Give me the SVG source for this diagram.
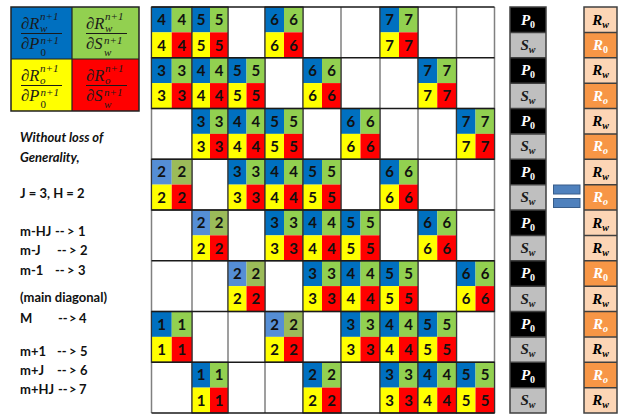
<svg xmlns="http://www.w3.org/2000/svg" width="622" height="416" viewBox="0 0 622 416">
<style>
.B{fill:#0070C0}.G{fill:#92D050}.Y{fill:#FFFF00}.R{fill:#FF0000}.LB{fill:#558ED5}.LG{fill:#9BBB59}
.d{font-family:Lato,"Liberation Sans",sans-serif;font-weight:700;font-size:15px;fill:#111;text-anchor:middle}
.ol{fill:none;stroke:#333;stroke-width:1.2}
.vl{stroke:#808080;stroke-width:1.5}
.hl{stroke:#1a1a1a;stroke-width:1.5}
.lt{font-family:Lato,"Liberation Sans",sans-serif;font-weight:700;font-size:13px;fill:#111}
.it{font-style:italic}
.fm{font-family:"Liberation Serif","DejaVu Serif",serif;font-style:italic;font-size:16.5px;fill:#1a1a1a}
.fs{font-size:11px}
.fl{stroke:#1a1a1a;stroke-width:1}
.vc{stroke:#404040;stroke-width:1.5}
.vt{font-family:"Liberation Serif","DejaVu Serif",serif;font-style:italic;font-weight:700;font-size:15px;text-anchor:middle}
.sb{font-size:10px}
.up{font-style:normal}
</style>
<rect width="622" height="416" fill="#fff"/>

<g id="legend">
<rect class="B" x="11" y="7" width="61" height="52"/>
<rect class="G" x="72" y="7" width="67" height="52"/>
<rect class="Y" x="11" y="59" width="61" height="52"/>
<rect class="R" x="72" y="59" width="67" height="52"/>
<path d="M72 7V111M11 59H139" stroke="#222" stroke-width="1.2"/>
<rect x="11" y="7" width="128" height="104" fill="none" stroke="#222" stroke-width="1.5"/>
<g id="f-bl">
<text class="fm" x="21" y="29">∂R<tspan class="fs" x="40" y="19.8">n+1</tspan><tspan class="fs" x="40" y="31.9">w</tspan></text>
<line class="fl" x1="21" y1="33.5" x2="62" y2="33.5"/>
<text class="fm" x="21" y="49">∂P<tspan class="fs" x="40.5" y="44.2">n+1</tspan><tspan class="fs up" x="40.5" y="56.4">0</tspan></text>
</g>
<g id="f-gr">
<text class="fm" x="86" y="29">∂R<tspan class="fs" x="105" y="19.8">n+1</tspan><tspan class="fs" x="105" y="31.9">w</tspan></text>
<line class="fl" x1="86" y1="33.5" x2="127" y2="33.5"/>
<text class="fm" x="86" y="49">∂S<tspan class="fs" x="104" y="44.2">n+1</tspan><tspan class="fs" x="104" y="56.4">w</tspan></text>
</g>
<g id="f-ye">
<text class="fm" x="21" y="81">∂R<tspan class="fs" x="40" y="71.8">n+1</tspan><tspan class="fs" x="40" y="83.9">o</tspan></text>
<line class="fl" x1="21" y1="85.5" x2="62" y2="85.5"/>
<text class="fm" x="21" y="101">∂P<tspan class="fs" x="40.5" y="96.2">n+1</tspan><tspan class="fs up" x="40.5" y="108.4">0</tspan></text>
</g>
<g id="f-re">
<text class="fm" x="86" y="81">∂R<tspan class="fs" x="105" y="71.8">n+1</tspan><tspan class="fs" x="105" y="83.9">o</tspan></text>
<line class="fl" x1="86" y1="85.5" x2="127" y2="85.5"/>
<text class="fm" x="86" y="101">∂S<tspan class="fs" x="104" y="96.2">n+1</tspan><tspan class="fs" x="104" y="108.4">w</tspan></text>
</g>
</g>

<g id="notes" class="lt">
<text class="it" x="20" y="141.5">Without loss of</text>
<text class="it" x="20" y="161.5">Generality,</text>
<text x="20" y="197.5">J = 3, H = 2</text>
<text y="235.5"><tspan x="20">m-HJ</tspan><tspan x="55">--</tspan><tspan x="67">&gt;</tspan><tspan x="78">1</tspan></text>
<text y="254.5"><tspan x="20">m-J</tspan><tspan x="57">--</tspan><tspan x="69">&gt;</tspan><tspan x="80">2</tspan></text>
<text y="274.5"><tspan x="20">m-1</tspan><tspan x="55">--</tspan><tspan x="67">&gt;</tspan><tspan x="78">3</tspan></text>
<text x="20" y="301.5">(main diagonal)</text>
<text y="322.5"><tspan x="20">M</tspan><tspan x="58">--</tspan><tspan x="69">&gt;</tspan><tspan x="79">4</tspan></text>
<text y="355.5"><tspan x="20">m+1</tspan><tspan x="57">--</tspan><tspan x="69">&gt;</tspan><tspan x="80">5</tspan></text>
<text y="374.5"><tspan x="20">m+J</tspan><tspan x="57">--</tspan><tspan x="69">&gt;</tspan><tspan x="80">6</tspan></text>
<text y="393.5"><tspan x="20">m+HJ</tspan><tspan x="58">--</tspan><tspan x="69">&gt;</tspan><tspan x="79">7</tspan></text>
</g>

<g id="matrix">
<g id="grid-v">
<path class="vl" d="M151.5 7V413M192 7V413M228 7V413M265 7V413M303 7V413M341 7V413M380 7V413M418 7V413M456.5 7V413M494.5 7V413"/>
</g>
<!-- row 0 -->
<g id="b0-0" transform="translate(151.5 7)"><rect class="B" width="20.25" height="25.4"/><rect class="G" x="20.25" width="20.25" height="25.4"/><rect class="Y" y="25.35" width="20.25" height="25.4"/><rect class="R" x="20.25" y="25.35" width="20.25" height="25.4"/><rect class="ol" width="40.5" height="50.75"/><text class="d" x="10.1" y="18.2">4</text><text class="d" x="30.4" y="18.2">4</text><text class="d" x="10.1" y="43.6">4</text><text class="d" x="30.4" y="43.6">4</text></g>
<g id="b0-1" transform="translate(192 7)"><rect class="B" width="18" height="25.4"/><rect class="G" x="18" width="18" height="25.4"/><rect class="Y" y="25.35" width="18" height="25.4"/><rect class="R" x="18" y="25.35" width="18" height="25.4"/><rect class="ol" width="36" height="50.75"/><text class="d" x="9" y="18.2">5</text><text class="d" x="27" y="18.2">5</text><text class="d" x="9" y="43.6">5</text><text class="d" x="27" y="43.6">5</text></g>
<g id="b0-3" transform="translate(265 7)"><rect class="B" width="19" height="25.4"/><rect class="G" x="19" width="19" height="25.4"/><rect class="Y" y="25.35" width="19" height="25.4"/><rect class="R" x="19" y="25.35" width="19" height="25.4"/><rect class="ol" width="38" height="50.75"/><text class="d" x="9.5" y="18.2">6</text><text class="d" x="28.5" y="18.2">6</text><text class="d" x="9.5" y="43.6">6</text><text class="d" x="28.5" y="43.6">6</text></g>
<g id="b0-6" transform="translate(380 7)"><rect class="B" width="19" height="25.4"/><rect class="G" x="19" width="19" height="25.4"/><rect class="Y" y="25.35" width="19" height="25.4"/><rect class="R" x="19" y="25.35" width="19" height="25.4"/><rect class="ol" width="38" height="50.75"/><text class="d" x="9.5" y="18.2">7</text><text class="d" x="28.5" y="18.2">7</text><text class="d" x="9.5" y="43.6">7</text><text class="d" x="28.5" y="43.6">7</text></g>
<!-- row 1 -->
<g id="b1-0" transform="translate(151.5 57.75)"><rect class="B" width="20.25" height="25.4"/><rect class="G" x="20.25" width="20.25" height="25.4"/><rect class="Y" y="25.35" width="20.25" height="25.4"/><rect class="R" x="20.25" y="25.35" width="20.25" height="25.4"/><rect class="ol" width="40.5" height="50.75"/><text class="d" x="10.1" y="18.2">3</text><text class="d" x="30.4" y="18.2">3</text><text class="d" x="10.1" y="43.6">3</text><text class="d" x="30.4" y="43.6">3</text></g>
<g id="b1-1" transform="translate(192 57.75)"><rect class="B" width="18" height="25.4"/><rect class="G" x="18" width="18" height="25.4"/><rect class="Y" y="25.35" width="18" height="25.4"/><rect class="R" x="18" y="25.35" width="18" height="25.4"/><rect class="ol" width="36" height="50.75"/><text class="d" x="9" y="18.2">4</text><text class="d" x="27" y="18.2">4</text><text class="d" x="9" y="43.6">4</text><text class="d" x="27" y="43.6">4</text></g>
<g id="b1-2" transform="translate(228 57.75)"><rect class="B" width="18.5" height="25.4"/><rect class="G" x="18.5" width="18.5" height="25.4"/><rect class="Y" y="25.35" width="18.5" height="25.4"/><rect class="R" x="18.5" y="25.35" width="18.5" height="25.4"/><rect class="ol" width="37" height="50.75"/><text class="d" x="9.25" y="18.2">5</text><text class="d" x="27.75" y="18.2">5</text><text class="d" x="9.25" y="43.6">5</text><text class="d" x="27.75" y="43.6">5</text></g>
<g id="b1-4" transform="translate(303 57.75)"><rect class="B" width="19" height="25.4"/><rect class="G" x="19" width="19" height="25.4"/><rect class="Y" y="25.35" width="19" height="25.4"/><rect class="R" x="19" y="25.35" width="19" height="25.4"/><rect class="ol" width="38" height="50.75"/><text class="d" x="9.5" y="18.2">6</text><text class="d" x="28.5" y="18.2">6</text><text class="d" x="9.5" y="43.6">6</text><text class="d" x="28.5" y="43.6">6</text></g>
<g id="b1-7" transform="translate(418 57.75)"><rect class="B" width="19.25" height="25.4"/><rect class="G" x="19.25" width="19.25" height="25.4"/><rect class="Y" y="25.35" width="19.25" height="25.4"/><rect class="R" x="19.25" y="25.35" width="19.25" height="25.4"/><rect class="ol" width="38.5" height="50.75"/><text class="d" x="9.6" y="18.2">7</text><text class="d" x="28.9" y="18.2">7</text><text class="d" x="9.6" y="43.6">7</text><text class="d" x="28.9" y="43.6">7</text></g>
<!-- row 2 -->
<g id="b2-1" transform="translate(192 108.5)"><rect class="B" width="18" height="25.4"/><rect class="G" x="18" width="18" height="25.4"/><rect class="Y" y="25.35" width="18" height="25.4"/><rect class="R" x="18" y="25.35" width="18" height="25.4"/><rect class="ol" width="36" height="50.75"/><text class="d" x="9" y="18.2">3</text><text class="d" x="27" y="18.2">3</text><text class="d" x="9" y="43.6">3</text><text class="d" x="27" y="43.6">3</text></g>
<g id="b2-2" transform="translate(228 108.5)"><rect class="B" width="18.5" height="25.4"/><rect class="G" x="18.5" width="18.5" height="25.4"/><rect class="Y" y="25.35" width="18.5" height="25.4"/><rect class="R" x="18.5" y="25.35" width="18.5" height="25.4"/><rect class="ol" width="37" height="50.75"/><text class="d" x="9.25" y="18.2">4</text><text class="d" x="27.75" y="18.2">4</text><text class="d" x="9.25" y="43.6">4</text><text class="d" x="27.75" y="43.6">4</text></g>
<g id="b2-3" transform="translate(265 108.5)"><rect class="B" width="19" height="25.4"/><rect class="G" x="19" width="19" height="25.4"/><rect class="Y" y="25.35" width="19" height="25.4"/><rect class="R" x="19" y="25.35" width="19" height="25.4"/><rect class="ol" width="38" height="50.75"/><text class="d" x="9.5" y="18.2">5</text><text class="d" x="28.5" y="18.2">5</text><text class="d" x="9.5" y="43.6">5</text><text class="d" x="28.5" y="43.6">5</text></g>
<g id="b2-5" transform="translate(341 108.5)"><rect class="B" width="19.5" height="25.4"/><rect class="G" x="19.5" width="19.5" height="25.4"/><rect class="Y" y="25.35" width="19.5" height="25.4"/><rect class="R" x="19.5" y="25.35" width="19.5" height="25.4"/><rect class="ol" width="39" height="50.75"/><text class="d" x="9.75" y="18.2">6</text><text class="d" x="29.25" y="18.2">6</text><text class="d" x="9.75" y="43.6">6</text><text class="d" x="29.25" y="43.6">6</text></g>
<g id="b2-8" transform="translate(456.5 108.5)"><rect class="B" width="19" height="25.4"/><rect class="G" x="19" width="19" height="25.4"/><rect class="Y" y="25.35" width="19" height="25.4"/><rect class="R" x="19" y="25.35" width="19" height="25.4"/><rect class="ol" width="38" height="50.75"/><text class="d" x="9.5" y="18.2">7</text><text class="d" x="28.5" y="18.2">7</text><text class="d" x="9.5" y="43.6">7</text><text class="d" x="28.5" y="43.6">7</text></g>
<!-- row 3 -->
<g id="b3-0" transform="translate(151.5 159.25)"><rect class="LB" width="20.25" height="25.4"/><rect class="LG" x="20.25" width="20.25" height="25.4"/><rect class="Y" y="25.35" width="20.25" height="25.4"/><rect class="R" x="20.25" y="25.35" width="20.25" height="25.4"/><rect class="ol" width="40.5" height="50.75"/><text class="d" x="10.1" y="18.2">2</text><text class="d" x="30.4" y="18.2">2</text><text class="d" x="10.1" y="43.6">2</text><text class="d" x="30.4" y="43.6">2</text></g>
<g id="b3-2" transform="translate(228 159.25)"><rect class="B" width="18.5" height="25.4"/><rect class="G" x="18.5" width="18.5" height="25.4"/><rect class="Y" y="25.35" width="18.5" height="25.4"/><rect class="R" x="18.5" y="25.35" width="18.5" height="25.4"/><rect class="ol" width="37" height="50.75"/><text class="d" x="9.25" y="18.2">3</text><text class="d" x="27.75" y="18.2">3</text><text class="d" x="9.25" y="43.6">3</text><text class="d" x="27.75" y="43.6">3</text></g>
<g id="b3-3" transform="translate(265 159.25)"><rect class="B" width="19" height="25.4"/><rect class="G" x="19" width="19" height="25.4"/><rect class="Y" y="25.35" width="19" height="25.4"/><rect class="R" x="19" y="25.35" width="19" height="25.4"/><rect class="ol" width="38" height="50.75"/><text class="d" x="9.5" y="18.2">4</text><text class="d" x="28.5" y="18.2">4</text><text class="d" x="9.5" y="43.6">4</text><text class="d" x="28.5" y="43.6">4</text></g>
<g id="b3-4" transform="translate(303 159.25)"><rect class="B" width="19" height="25.4"/><rect class="G" x="19" width="19" height="25.4"/><rect class="Y" y="25.35" width="19" height="25.4"/><rect class="R" x="19" y="25.35" width="19" height="25.4"/><rect class="ol" width="38" height="50.75"/><text class="d" x="9.5" y="18.2">5</text><text class="d" x="28.5" y="18.2">5</text><text class="d" x="9.5" y="43.6">5</text><text class="d" x="28.5" y="43.6">5</text></g>
<g id="b3-6" transform="translate(380 159.25)"><rect class="B" width="19" height="25.4"/><rect class="G" x="19" width="19" height="25.4"/><rect class="Y" y="25.35" width="19" height="25.4"/><rect class="R" x="19" y="25.35" width="19" height="25.4"/><rect class="ol" width="38" height="50.75"/><text class="d" x="9.5" y="18.2">6</text><text class="d" x="28.5" y="18.2">6</text><text class="d" x="9.5" y="43.6">6</text><text class="d" x="28.5" y="43.6">6</text></g>
<!-- row 4 -->
<g id="b4-1" transform="translate(192 210)"><rect class="LB" width="18" height="25.4"/><rect class="LG" x="18" width="18" height="25.4"/><rect class="Y" y="25.35" width="18" height="25.4"/><rect class="R" x="18" y="25.35" width="18" height="25.4"/><rect class="ol" width="36" height="50.75"/><text class="d" x="9" y="18.2">2</text><text class="d" x="27" y="18.2">2</text><text class="d" x="9" y="43.6">2</text><text class="d" x="27" y="43.6">2</text></g>
<g id="b4-3" transform="translate(265 210)"><rect class="B" width="19" height="25.4"/><rect class="G" x="19" width="19" height="25.4"/><rect class="Y" y="25.35" width="19" height="25.4"/><rect class="R" x="19" y="25.35" width="19" height="25.4"/><rect class="ol" width="38" height="50.75"/><text class="d" x="9.5" y="18.2">3</text><text class="d" x="28.5" y="18.2">3</text><text class="d" x="9.5" y="43.6">3</text><text class="d" x="28.5" y="43.6">3</text></g>
<g id="b4-4" transform="translate(303 210)"><rect class="B" width="19" height="25.4"/><rect class="G" x="19" width="19" height="25.4"/><rect class="Y" y="25.35" width="19" height="25.4"/><rect class="R" x="19" y="25.35" width="19" height="25.4"/><rect class="ol" width="38" height="50.75"/><text class="d" x="9.5" y="18.2">4</text><text class="d" x="28.5" y="18.2">4</text><text class="d" x="9.5" y="43.6">4</text><text class="d" x="28.5" y="43.6">4</text></g>
<g id="b4-5" transform="translate(341 210)"><rect class="B" width="19.5" height="25.4"/><rect class="G" x="19.5" width="19.5" height="25.4"/><rect class="Y" y="25.35" width="19.5" height="25.4"/><rect class="R" x="19.5" y="25.35" width="19.5" height="25.4"/><rect class="ol" width="39" height="50.75"/><text class="d" x="9.75" y="18.2">5</text><text class="d" x="29.25" y="18.2">5</text><text class="d" x="9.75" y="43.6">5</text><text class="d" x="29.25" y="43.6">5</text></g>
<g id="b4-7" transform="translate(418 210)"><rect class="B" width="19.25" height="25.4"/><rect class="G" x="19.25" width="19.25" height="25.4"/><rect class="Y" y="25.35" width="19.25" height="25.4"/><rect class="R" x="19.25" y="25.35" width="19.25" height="25.4"/><rect class="ol" width="38.5" height="50.75"/><text class="d" x="9.6" y="18.2">6</text><text class="d" x="28.9" y="18.2">6</text><text class="d" x="9.6" y="43.6">6</text><text class="d" x="28.9" y="43.6">6</text></g>
<!-- row 5 -->
<g id="b5-2" transform="translate(228 260.75)"><rect class="LB" width="18.5" height="25.4"/><rect class="LG" x="18.5" width="18.5" height="25.4"/><rect class="Y" y="25.35" width="18.5" height="25.4"/><rect class="R" x="18.5" y="25.35" width="18.5" height="25.4"/><rect class="ol" width="37" height="50.75"/><text class="d" x="9.25" y="18.2">2</text><text class="d" x="27.75" y="18.2">2</text><text class="d" x="9.25" y="43.6">2</text><text class="d" x="27.75" y="43.6">2</text></g>
<g id="b5-4" transform="translate(303 260.75)"><rect class="B" width="19" height="25.4"/><rect class="G" x="19" width="19" height="25.4"/><rect class="Y" y="25.35" width="19" height="25.4"/><rect class="R" x="19" y="25.35" width="19" height="25.4"/><rect class="ol" width="38" height="50.75"/><text class="d" x="9.5" y="18.2">3</text><text class="d" x="28.5" y="18.2">3</text><text class="d" x="9.5" y="43.6">3</text><text class="d" x="28.5" y="43.6">3</text></g>
<g id="b5-5" transform="translate(341 260.75)"><rect class="B" width="19.5" height="25.4"/><rect class="G" x="19.5" width="19.5" height="25.4"/><rect class="Y" y="25.35" width="19.5" height="25.4"/><rect class="R" x="19.5" y="25.35" width="19.5" height="25.4"/><rect class="ol" width="39" height="50.75"/><text class="d" x="9.75" y="18.2">4</text><text class="d" x="29.25" y="18.2">4</text><text class="d" x="9.75" y="43.6">4</text><text class="d" x="29.25" y="43.6">4</text></g>
<g id="b5-6" transform="translate(380 260.75)"><rect class="B" width="19" height="25.4"/><rect class="G" x="19" width="19" height="25.4"/><rect class="Y" y="25.35" width="19" height="25.4"/><rect class="R" x="19" y="25.35" width="19" height="25.4"/><rect class="ol" width="38" height="50.75"/><text class="d" x="9.5" y="18.2">5</text><text class="d" x="28.5" y="18.2">5</text><text class="d" x="9.5" y="43.6">5</text><text class="d" x="28.5" y="43.6">5</text></g>
<g id="b5-8" transform="translate(456.5 260.75)"><rect class="B" width="19" height="25.4"/><rect class="G" x="19" width="19" height="25.4"/><rect class="Y" y="25.35" width="19" height="25.4"/><rect class="R" x="19" y="25.35" width="19" height="25.4"/><rect class="ol" width="38" height="50.75"/><text class="d" x="9.5" y="18.2">6</text><text class="d" x="28.5" y="18.2">6</text><text class="d" x="9.5" y="43.6">6</text><text class="d" x="28.5" y="43.6">6</text></g>
<!-- row 6 -->
<g id="b6-0" transform="translate(151.5 311.5)"><rect class="B" width="20.25" height="25.4"/><rect class="G" x="20.25" width="20.25" height="25.4"/><rect class="Y" y="25.35" width="20.25" height="25.4"/><rect class="R" x="20.25" y="25.35" width="20.25" height="25.4"/><rect class="ol" width="40.5" height="50.75"/><text class="d" x="10.1" y="18.2">1</text><text class="d" x="30.4" y="18.2">1</text><text class="d" x="10.1" y="43.6">1</text><text class="d" x="30.4" y="43.6">1</text></g>
<g id="b6-3" transform="translate(265 311.5)"><rect class="LB" width="19" height="25.4"/><rect class="LG" x="19" width="19" height="25.4"/><rect class="Y" y="25.35" width="19" height="25.4"/><rect class="R" x="19" y="25.35" width="19" height="25.4"/><rect class="ol" width="38" height="50.75"/><text class="d" x="9.5" y="18.2">2</text><text class="d" x="28.5" y="18.2">2</text><text class="d" x="9.5" y="43.6">2</text><text class="d" x="28.5" y="43.6">2</text></g>
<g id="b6-5" transform="translate(341 311.5)"><rect class="B" width="19.5" height="25.4"/><rect class="G" x="19.5" width="19.5" height="25.4"/><rect class="Y" y="25.35" width="19.5" height="25.4"/><rect class="R" x="19.5" y="25.35" width="19.5" height="25.4"/><rect class="ol" width="39" height="50.75"/><text class="d" x="9.75" y="18.2">3</text><text class="d" x="29.25" y="18.2">3</text><text class="d" x="9.75" y="43.6">3</text><text class="d" x="29.25" y="43.6">3</text></g>
<g id="b6-6" transform="translate(380 311.5)"><rect class="B" width="19" height="25.4"/><rect class="G" x="19" width="19" height="25.4"/><rect class="Y" y="25.35" width="19" height="25.4"/><rect class="R" x="19" y="25.35" width="19" height="25.4"/><rect class="ol" width="38" height="50.75"/><text class="d" x="9.5" y="18.2">4</text><text class="d" x="28.5" y="18.2">4</text><text class="d" x="9.5" y="43.6">4</text><text class="d" x="28.5" y="43.6">4</text></g>
<g id="b6-7" transform="translate(418 311.5)"><rect class="B" width="19.25" height="25.4"/><rect class="G" x="19.25" width="19.25" height="25.4"/><rect class="Y" y="25.35" width="19.25" height="25.4"/><rect class="R" x="19.25" y="25.35" width="19.25" height="25.4"/><rect class="ol" width="38.5" height="50.75"/><text class="d" x="9.6" y="18.2">5</text><text class="d" x="28.9" y="18.2">5</text><text class="d" x="9.6" y="43.6">5</text><text class="d" x="28.9" y="43.6">5</text></g>
<!-- row 7 -->
<g id="b7-1" transform="translate(192 362.25)"><rect class="B" width="18" height="25.4"/><rect class="G" x="18" width="18" height="25.4"/><rect class="Y" y="25.35" width="18" height="25.4"/><rect class="R" x="18" y="25.35" width="18" height="25.4"/><rect class="ol" width="36" height="50.75"/><text class="d" x="9" y="18.2">1</text><text class="d" x="27" y="18.2">1</text><text class="d" x="9" y="43.6">1</text><text class="d" x="27" y="43.6">1</text></g>
<g id="b7-4" transform="translate(303 362.25)"><rect class="B" width="19" height="25.4"/><rect class="G" x="19" width="19" height="25.4"/><rect class="Y" y="25.35" width="19" height="25.4"/><rect class="R" x="19" y="25.35" width="19" height="25.4"/><rect class="ol" width="38" height="50.75"/><text class="d" x="9.5" y="18.2">2</text><text class="d" x="28.5" y="18.2">2</text><text class="d" x="9.5" y="43.6">2</text><text class="d" x="28.5" y="43.6">2</text></g>
<g id="b7-6" transform="translate(380 362.25)"><rect class="B" width="19" height="25.4"/><rect class="G" x="19" width="19" height="25.4"/><rect class="Y" y="25.35" width="19" height="25.4"/><rect class="R" x="19" y="25.35" width="19" height="25.4"/><rect class="ol" width="38" height="50.75"/><text class="d" x="9.5" y="18.2">3</text><text class="d" x="28.5" y="18.2">3</text><text class="d" x="9.5" y="43.6">3</text><text class="d" x="28.5" y="43.6">3</text></g>
<g id="b7-7" transform="translate(418 362.25)"><rect class="B" width="19.25" height="25.4"/><rect class="G" x="19.25" width="19.25" height="25.4"/><rect class="Y" y="25.35" width="19.25" height="25.4"/><rect class="R" x="19.25" y="25.35" width="19.25" height="25.4"/><rect class="ol" width="38.5" height="50.75"/><text class="d" x="9.6" y="18.2">4</text><text class="d" x="28.9" y="18.2">4</text><text class="d" x="9.6" y="43.6">4</text><text class="d" x="28.9" y="43.6">4</text></g>
<g id="b7-8" transform="translate(456.5 362.25)"><rect class="B" width="19" height="25.4"/><rect class="G" x="19" width="19" height="25.4"/><rect class="Y" y="25.35" width="19" height="25.4"/><rect class="R" x="19" y="25.35" width="19" height="25.4"/><rect class="ol" width="38" height="50.75"/><text class="d" x="9.5" y="18.2">5</text><text class="d" x="28.5" y="18.2">5</text><text class="d" x="9.5" y="43.6">5</text><text class="d" x="28.5" y="43.6">5</text></g>
<g id="grid-h">
<path class="hl" d="M151.5 7H494.5M151.5 57.75H494.5M151.5 108.5H494.5M151.5 159.25H494.5M151.5 210H494.5M151.5 260.75H494.5M151.5 311.5H494.5M151.5 362.25H494.5M151.5 413H494.5"/>
</g>
</g>

<g id="vecP">
<rect x="510" y="7" width="36" height="25.375" fill="#000"/>
<rect x="510" y="32.375" width="36" height="25.375" fill="#BFBFBF"/>
<rect x="510" y="57.75" width="36" height="25.375" fill="#000"/>
<rect x="510" y="83.125" width="36" height="25.375" fill="#BFBFBF"/>
<rect x="510" y="108.5" width="36" height="25.375" fill="#000"/>
<rect x="510" y="133.875" width="36" height="25.375" fill="#BFBFBF"/>
<rect x="510" y="159.25" width="36" height="25.375" fill="#000"/>
<rect x="510" y="184.625" width="36" height="25.375" fill="#BFBFBF"/>
<rect x="510" y="210" width="36" height="25.375" fill="#000"/>
<rect x="510" y="235.375" width="36" height="25.375" fill="#BFBFBF"/>
<rect x="510" y="260.75" width="36" height="25.375" fill="#000"/>
<rect x="510" y="286.125" width="36" height="25.375" fill="#BFBFBF"/>
<rect x="510" y="311.5" width="36" height="25.375" fill="#000"/>
<rect x="510" y="336.875" width="36" height="25.375" fill="#BFBFBF"/>
<rect x="510" y="362.25" width="36" height="25.375" fill="#000"/>
<rect x="510" y="387.625" width="36" height="25.375" fill="#BFBFBF"/>
<path class="vc" fill="none" d="M510 7H546V413H510ZM510 32.375H546M510 57.75H546M510 83.125H546M510 108.5H546M510 133.875H546M510 159.25H546M510 184.625H546M510 210H546M510 235.375H546M510 260.75H546M510 286.125H546M510 311.5H546M510 336.875H546M510 362.25H546M510 387.625H546"/>
<g class="vt">
<text x="528" y="24.5" fill="#fff">P<tspan class="sb up" dy="3">0</tspan></text>
<text x="528" y="49.9" fill="#1a1a1a">S<tspan class="sb" dy="3">w</tspan></text>
<text x="528" y="75.25" fill="#fff">P<tspan class="sb up" dy="3">0</tspan></text>
<text x="528" y="100.6" fill="#1a1a1a">S<tspan class="sb" dy="3">w</tspan></text>
<text x="528" y="126" fill="#fff">P<tspan class="sb up" dy="3">0</tspan></text>
<text x="528" y="151.4" fill="#1a1a1a">S<tspan class="sb" dy="3">w</tspan></text>
<text x="528" y="176.75" fill="#fff">P<tspan class="sb up" dy="3">0</tspan></text>
<text x="528" y="202.1" fill="#1a1a1a">S<tspan class="sb" dy="3">w</tspan></text>
<text x="528" y="227.5" fill="#fff">P<tspan class="sb up" dy="3">0</tspan></text>
<text x="528" y="252.9" fill="#1a1a1a">S<tspan class="sb" dy="3">w</tspan></text>
<text x="528" y="278.25" fill="#fff">P<tspan class="sb up" dy="3">0</tspan></text>
<text x="528" y="303.6" fill="#1a1a1a">S<tspan class="sb" dy="3">w</tspan></text>
<text x="528" y="329" fill="#fff">P<tspan class="sb up" dy="3">0</tspan></text>
<text x="528" y="354.4" fill="#1a1a1a">S<tspan class="sb" dy="3">w</tspan></text>
<text x="528" y="379.75" fill="#fff">P<tspan class="sb up" dy="3">0</tspan></text>
<text x="528" y="405.1" fill="#1a1a1a">S<tspan class="sb" dy="3">w</tspan></text>
</g>
</g>

<g id="equals">
<rect x="553.5" y="185" width="26.5" height="9" fill="#4F81BD" stroke="#385D8A" stroke-width="1"/>
<rect x="553.5" y="198.5" width="26.5" height="9" fill="#4F81BD" stroke="#385D8A" stroke-width="1"/>
</g>

<g id="vecR">
<rect x="584" y="7" width="33" height="25.375" fill="#FCD5B5"/>
<rect x="584" y="32.375" width="33" height="25.375" fill="#F79646"/>
<rect x="584" y="57.75" width="33" height="25.375" fill="#FCD5B5"/>
<rect x="584" y="83.125" width="33" height="25.375" fill="#F79646"/>
<rect x="584" y="108.5" width="33" height="25.375" fill="#FCD5B5"/>
<rect x="584" y="133.875" width="33" height="25.375" fill="#F79646"/>
<rect x="584" y="159.25" width="33" height="25.375" fill="#FCD5B5"/>
<rect x="584" y="184.625" width="33" height="25.375" fill="#F79646"/>
<rect x="584" y="210" width="33" height="25.375" fill="#FCD5B5"/>
<rect x="584" y="235.375" width="33" height="25.375" fill="#FCD5B5"/>
<rect x="584" y="260.75" width="33" height="25.375" fill="#F79646"/>
<rect x="584" y="286.125" width="33" height="25.375" fill="#FCD5B5"/>
<rect x="584" y="311.5" width="33" height="25.375" fill="#F79646"/>
<rect x="584" y="336.875" width="33" height="25.375" fill="#FCD5B5"/>
<rect x="584" y="362.25" width="33" height="25.375" fill="#F79646"/>
<rect x="584" y="387.625" width="33" height="25.375" fill="#FCD5B5"/>
<path class="vc" fill="none" d="M584 7H617V413H584ZM584 32.375H617M584 57.75H617M584 83.125H617M584 108.5H617M584 133.875H617M584 159.25H617M584 184.625H617M584 210H617M584 235.375H617M584 260.75H617M584 286.125H617M584 311.5H617M584 336.875H617M584 362.25H617M584 387.625H617"/>
<g class="vt">
<text x="600.5" y="24.5" fill="#000">R<tspan class="sb" dy="3">w</tspan></text>
<text x="600.5" y="49.9" fill="#fff">R<tspan class="sb up" dy="3">0</tspan></text>
<text x="600.5" y="75.25" fill="#000">R<tspan class="sb" dy="3">w</tspan></text>
<text x="600.5" y="100.6" fill="#fff">R<tspan class="sb" dy="3">o</tspan></text>
<text x="600.5" y="126" fill="#000">R<tspan class="sb" dy="3">w</tspan></text>
<text x="600.5" y="151.4" fill="#fff">R<tspan class="sb" dy="3">o</tspan></text>
<text x="600.5" y="176.75" fill="#000">R<tspan class="sb" dy="3">w</tspan></text>
<text x="600.5" y="202.1" fill="#fff">R<tspan class="sb" dy="3">o</tspan></text>
<text x="600.5" y="227.5" fill="#000">R<tspan class="sb" dy="3">w</tspan></text>
<text x="600.5" y="252.9" fill="#000">R<tspan class="sb" dy="3">w</tspan></text>
<text x="600.5" y="278.25" fill="#fff">R<tspan class="sb up" dy="3">0</tspan></text>
<text x="600.5" y="303.6" fill="#000">R<tspan class="sb" dy="3">w</tspan></text>
<text x="600.5" y="329" fill="#fff">R<tspan class="sb" dy="3">o</tspan></text>
<text x="600.5" y="354.4" fill="#000">R<tspan class="sb" dy="3">w</tspan></text>
<text x="600.5" y="379.75" fill="#fff">R<tspan class="sb" dy="3">o</tspan></text>
<text x="600.5" y="405.1" fill="#000">R<tspan class="sb" dy="3">w</tspan></text>
</g>
</g>
</svg>
